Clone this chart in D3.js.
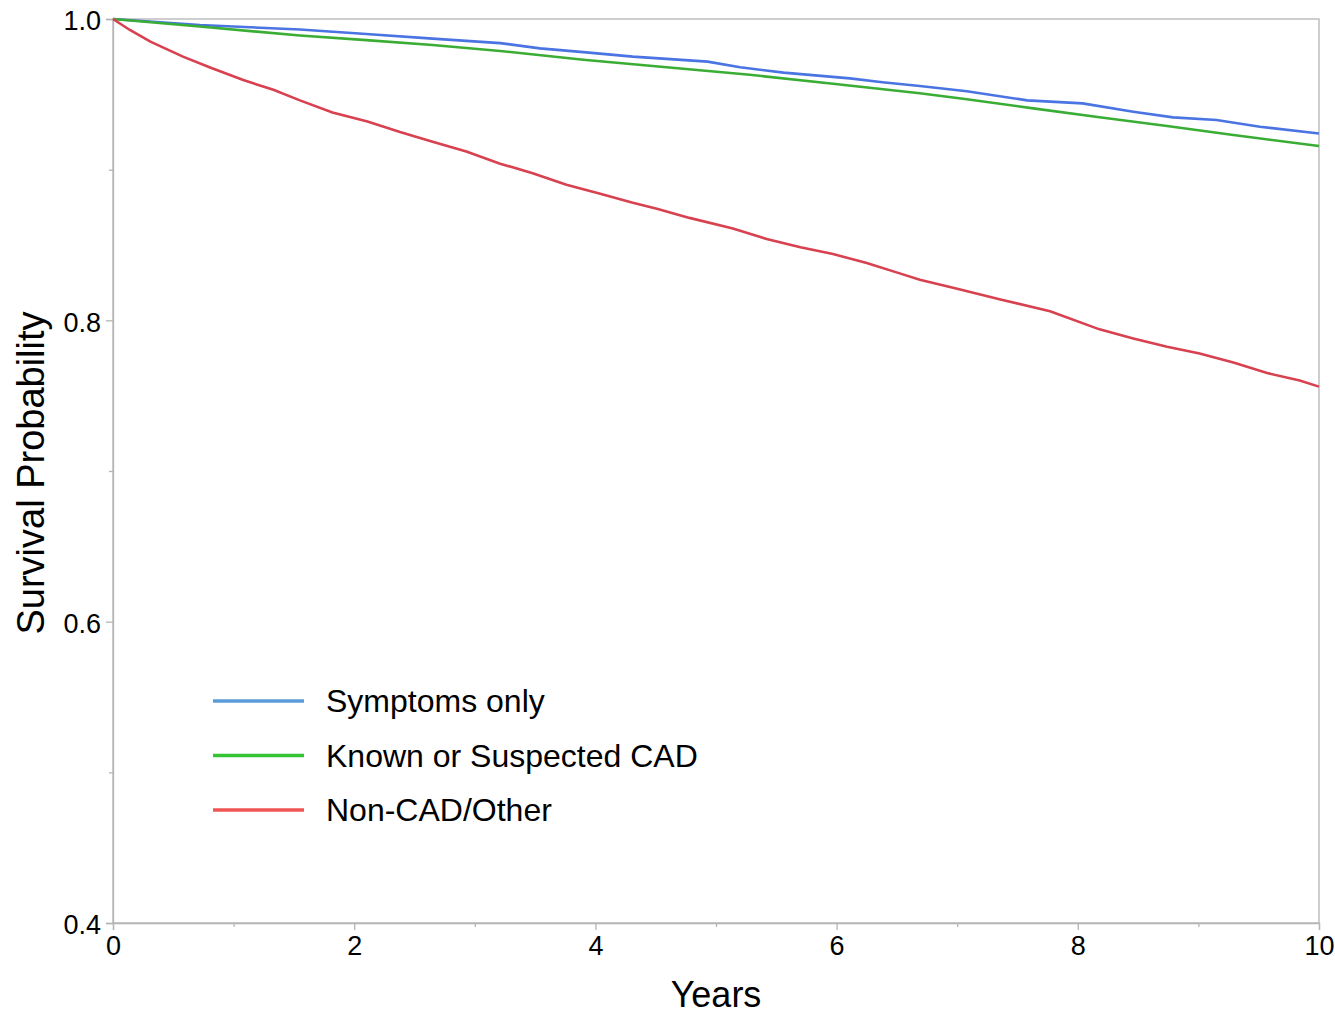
<!DOCTYPE html>
<html>
<head>
<meta charset="utf-8">
<script src="https://cdn.jsdelivr.net/npm/d3@7"></script>
<style>
  body { margin: 0; background: #fff; }
  text { font-family: "Liberation Sans", Arial, sans-serif; fill: #000; }
</style>
</head>
<body>
<div id="chart"></div>
<script>
// curve readings, [years, survival]
const symptomsOnly = [
  [0, 1.0], [0.72, 0.996], [1.55, 0.993], [2.1, 0.990], [2.65, 0.987],
  [3.21, 0.984], [3.54, 0.9805], [3.9, 0.978], [4.31, 0.975], [4.93, 0.9717],
  [5.2, 0.968], [5.56, 0.9644], [6.11, 0.9606], [6.38, 0.958], [6.69, 0.9555],
  [7.08, 0.952], [7.58, 0.946], [8.04, 0.944], [8.46, 0.9385], [8.79, 0.9347],
  [9.15, 0.933], [9.51, 0.9285], [10, 0.924]
];
const knownCAD = [
  [0, 1.0], [0.72, 0.995], [1.55, 0.989], [2.1, 0.986], [2.65, 0.9827],
  [3.21, 0.9788], [3.9, 0.973], [4.59, 0.968], [5.28, 0.963], [5.97, 0.957],
  [6.69, 0.9507], [7.08, 0.9467], [7.63, 0.9407], [8.18, 0.9348], [8.74, 0.929],
  [9.29, 0.923], [10, 0.9157]
];
const nonCAD = [
  [0, 1.0], [0.14, 0.9927], [0.31, 0.985], [0.58, 0.975], [0.8, 0.968],
  [1.08, 0.9595], [1.33, 0.953], [1.55, 0.946], [1.82, 0.938], [2.11, 0.932],
  [2.38, 0.925], [2.65, 0.9186], [2.93, 0.912], [3.21, 0.904], [3.48, 0.8976],
  [3.76, 0.89], [4.04, 0.884], [4.31, 0.878], [4.51, 0.874], [4.78, 0.868],
  [5.14, 0.861], [5.42, 0.854], [5.7, 0.8485], [5.97, 0.844], [6.25, 0.838],
  [6.53, 0.831], [6.69, 0.827], [7.0, 0.821], [7.35, 0.814], [7.77, 0.806],
  [8.18, 0.794], [8.46, 0.788], [8.74, 0.7825], [9.01, 0.778], [9.29, 0.772],
  [9.57, 0.765], [9.84, 0.76], [10, 0.756]
];

const seriesNames = ["Symptoms only", "Known or Suspected CAD", "Non-CAD/Other"];
const lineColors = ["#4a74e2", "#3aad35", "#d8414f"];
const legendColors = ["#5b9bd8", "#33c433", "#f05454"];

const xTicks = [0, 2, 4, 6, 8, 10];
const xMinor = [1, 3, 5, 7, 9];
const yTicks = [0.4, 0.6, 0.8, 1.0];
const yMinor = [0.5, 0.7, 0.9];

const width = 1335, height = 1015;
const margin = { top: 19, right: 16, bottom: 92, left: 113 };

const svg = d3.select("#chart").append("svg")
  .attr("width", width)
  .attr("height", height);

const x = d3.scaleLinear().domain([0, 10]).range([margin.left, width - margin.right]);
const y = d3.scaleLinear().domain([0.4, 1.0]).range([height - margin.bottom, margin.top]);

const axisColor = "#b4b4b4";

// frame
svg.append("rect")
  .attr("x", x(0)).attr("y", y(1))
  .attr("width", x(10) - x(0)).attr("height", y(0.4) - y(1))
  .attr("fill", "none").attr("stroke", axisColor).attr("stroke-width", 1.3);

// x axis
const xAxis = svg.append("g")
  .attr("transform", `translate(0,${y(0.4)})`)
  .call(d3.axisBottom(x).tickValues(xTicks).tickFormat(d3.format("d")).tickSize(7).tickPadding(6));
svg.append("g")
  .attr("transform", `translate(0,${y(0.4)})`)
  .call(d3.axisBottom(x).tickValues(xMinor).tickFormat("").tickSize(4))
  .call(g => g.select(".domain").remove());

// y axis
const yAxis = svg.append("g")
  .attr("transform", `translate(${x(0)},0)`)
  .call(d3.axisLeft(y).tickValues(yTicks).tickFormat(d3.format(".1f")).tickSize(7).tickPadding(5));
svg.append("g")
  .attr("transform", `translate(${x(0)},0)`)
  .call(d3.axisLeft(y).tickValues(yMinor).tickFormat("").tickSize(4))
  .call(g => g.select(".domain").remove());

svg.selectAll(".domain, .tick line").attr("stroke", axisColor).attr("stroke-width", 1.3);
svg.selectAll(".tick text")
  .attr("font-size", 27)
  .attr("font-family", "Liberation Sans, Arial, sans-serif");
yAxis.selectAll("text").attr("dy", "0.4em");

// axis titles
svg.append("text")
  .attr("x", x(5))
  .attr("y", 1007)
  .attr("text-anchor", "middle")
  .attr("font-size", 36)
  .text("Years");

svg.append("text")
  .attr("transform", `translate(44,${y(0.7) + 2}) rotate(-90)`)
  .attr("text-anchor", "middle")
  .attr("font-size", 38)
  .text("Survival Probability");

// curves
const line = d3.line()
  .x(d => x(d[0]))
  .y(d => y(d[1]));

const allSeries = [symptomsOnly, knownCAD, nonCAD];
svg.append("g")
  .selectAll("path")
  .data(allSeries)
  .join("path")
  .attr("d", line)
  .attr("fill", "none")
  .attr("stroke", (d, i) => lineColors[i])
  .attr("stroke-width", 2.6);

// legend
const legend = svg.append("g").attr("transform", "translate(213,701)");
const rows = legend.selectAll("g")
  .data(seriesNames)
  .join("g")
  .attr("transform", (d, i) => `translate(0,${i * 54.5})`);
rows.append("line")
  .attr("x1", 0).attr("x2", 91)
  .attr("stroke", (d, i) => legendColors[i])
  .attr("stroke-width", 3.5);
rows.append("text")
  .attr("x", 113)
  .attr("dy", "0.35em")
  .attr("font-size", 32)
  .text(d => d);
</script>
</body>
</html>
